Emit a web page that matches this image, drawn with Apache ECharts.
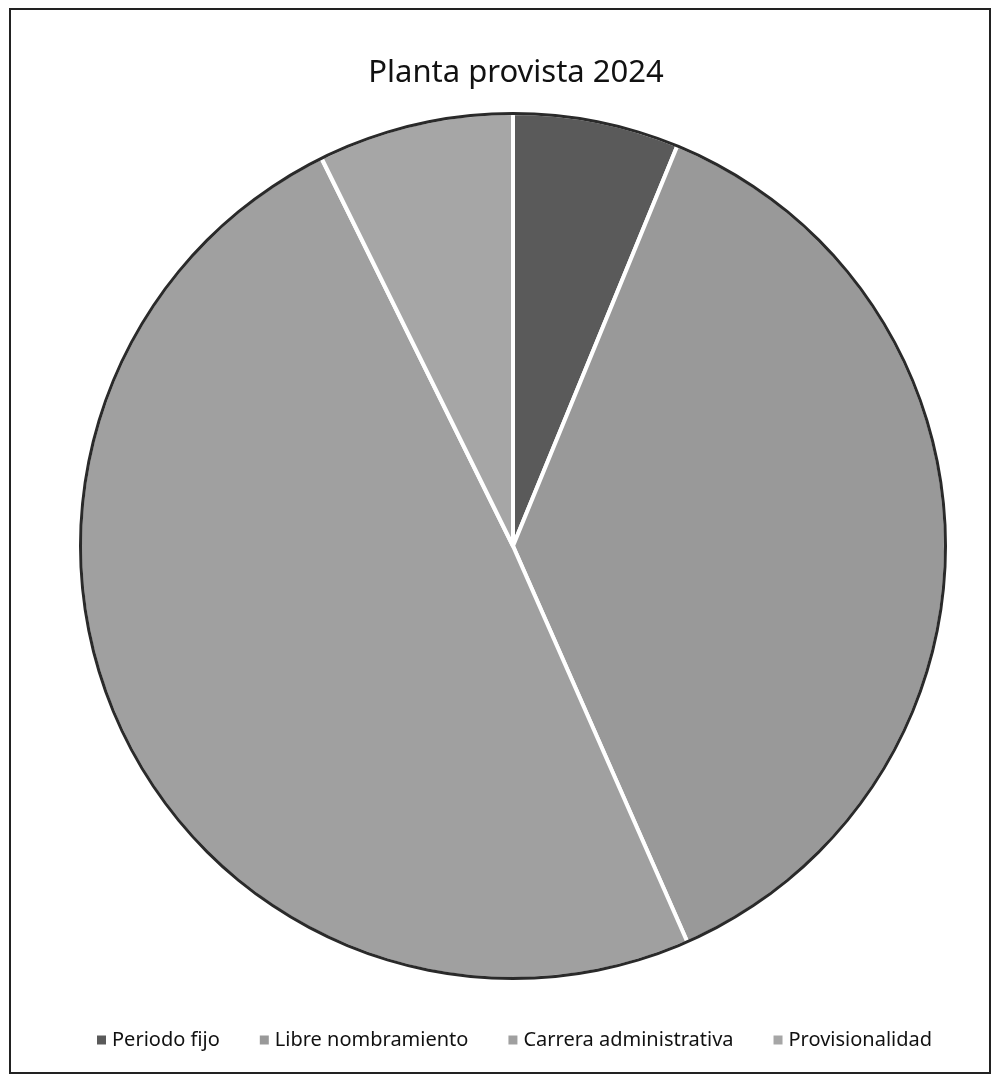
<!DOCTYPE html>
<html><head><meta charset="utf-8">
<script src="https://cdn.jsdelivr.net/npm/echarts@6/dist/echarts.min.js"></script>
<style>html,body{margin:0;padding:0;background:#fff}#c{width:1002px;height:1083px}</style>
</head><body><div id="c"></div>
<script>
const categories = ['Periodo fijo', 'Libre nombramiento', 'Carrera administrativa', 'Provisionalidad'];
const values = [6.2, 37.2, 49.3, 7.3];
const colors = ['#5a5a5a', '#999999', '#a0a0a0', '#a6a6a6'];
const titleText = 'Planta provista 2024';

const chart = echarts.init(document.getElementById('c'));
chart.setOption({
  animation: false,
  title: { text: titleText, left: 511, textAlign: 'center', top: 53, textStyle: { fontFamily: 'Noto Sans', fontSize: 31, fontWeight: 'normal', color: '#111' } },
  legend: {
    bottom: 28, left: 90, itemWidth: 11, itemHeight: 11, itemGap: 38, icon: 'rect',
    textStyle: { fontFamily: 'Noto Sans', fontSize: 20, color: '#111' },
    data: categories
  },
  graphic: [{ type: 'rect', shape: { x: 10, y: 9, width: 980, height: 1064 }, style: { fill: 'none', stroke: '#222', lineWidth: 2 }, silent: true }],
  series: [
    { type: 'pie', radius: 433, center: [513, 546], startAngle: 90, clockwise: true,
      label: { show: false }, labelLine: { show: false }, z: 2,
      itemStyle: { borderColor: '#fff', borderWidth: 4 },
      data: categories.map((n, i) => ({ name: n, value: values[i], itemStyle: { color: colors[i] } })) },
    { type: 'pie', radius: [431, 434], center: [513, 546], silent: true, label: { show: false }, legendHoverLink: false,
      data: [{ value: 1, name: '_ring', itemStyle: { color: '#2a2a2a' } }], z: 3 }
  ],
  color: colors
});
</script></body></html>
